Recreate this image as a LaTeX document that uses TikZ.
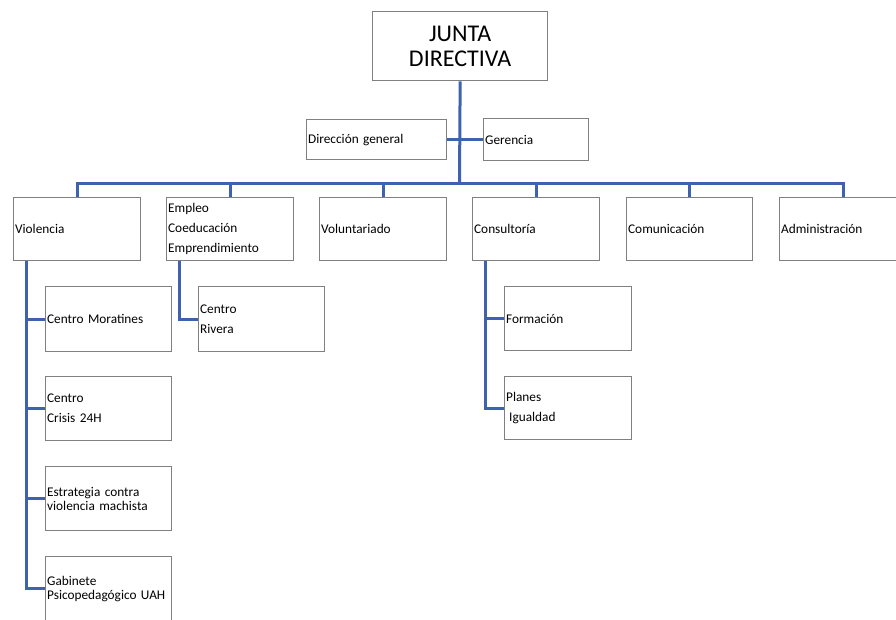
\documentclass[tikz,border=0pt]{standalone}
\usepackage{fontspec}
\setmainfont{Carlito}[WordSpace=0.75]
\definecolor{boxgray}{RGB}{128,128,128}
\definecolor{connblue}{RGB}{62,98,173}
\begin{document}
\begin{tikzpicture}[x=1pt,y=-1pt,
  box/.style n args={2}{draw=boxgray, line width=1.3pt, anchor=north west,
    inner xsep=1.5pt, inner ysep=0pt, align=left,
    minimum width=#1pt, text width=#1pt-3pt, minimum height=#2pt,
    font=\fontsize{13.3}{20}\selectfont},
  tight/.style={font=\fontsize{13.3}{14}\selectfont},
  conn/.style={draw=connblue, line width=3pt}]
\useasboundingbox (0,0) rectangle (896,619);
\clip (0,0) rectangle (896,619);
% boxes
\node[box={175}{69}, align=center, font=\fontsize{24}{24.7}\selectfont] (junta) at (372,11) {JUNTA\\DIRECTIVA};
\node[box={140}{40}] (dir) at (306,119) {Dirección general};
\node[box={105}{42}] (ger) at (483,118) {Gerencia};
\node[box={127}{63}] (viol) at (13,197) {Violencia};
\node[box={127}{63}] (emp) at (166,197) {Empleo\\Coeducación\\Emprendimiento};
\node[box={127}{63}] (vol) at (319,197) {Voluntariado};
\node[box={127}{63}] (cons) at (472,197) {Consultoría};
\node[box={126}{63}] (com) at (626,197) {Comunicación};
\node[box={127}{63}] (adm) at (779,197) {Administración};
\node[box={126}{65}] (mor) at (45,286) {Centro Moratines};
\node[box={126}{64}] (cri) at (45,376) {Centro\\Crisis 24H};
\node[box={126}{64}, tight] (est) at (45,466) {Estrategia contra\\violencia machista};
\node[box={126}{64}, tight] (gab) at (45,556) {Gabinete\\Psicopedagógico UAH};
\node[box={126}{65}] (riv) at (198,286) {Centro\\Rivera};
\node[box={127}{64}] (form) at (504,286) {Formación};
\node[box={127}{63}] (plan) at (504,376) {Planes\\\hspace{3pt}Igualdad};
% connectors
\coordinate (bus) at (459.5,183);
\draw[conn] (junta.south) -- (bus);
\draw[conn] (dir.east) -- (ger.west);
\foreach \n in {viol,emp,vol,cons,com,adm}{
  \draw[conn] (bus) -| (\n.north);
}
\foreach \n in {mor,cri,est,gab}{
  \draw[conn] (viol.south west) ++(13,0) |- (\n.west);
}
\draw[conn] (emp.south west) ++(13,0) |- (riv.west);
\foreach \n in {form,plan}{
  \draw[conn] (cons.south west) ++(13,0) |- (\n.west);
}
\end{tikzpicture}
\end{document}
